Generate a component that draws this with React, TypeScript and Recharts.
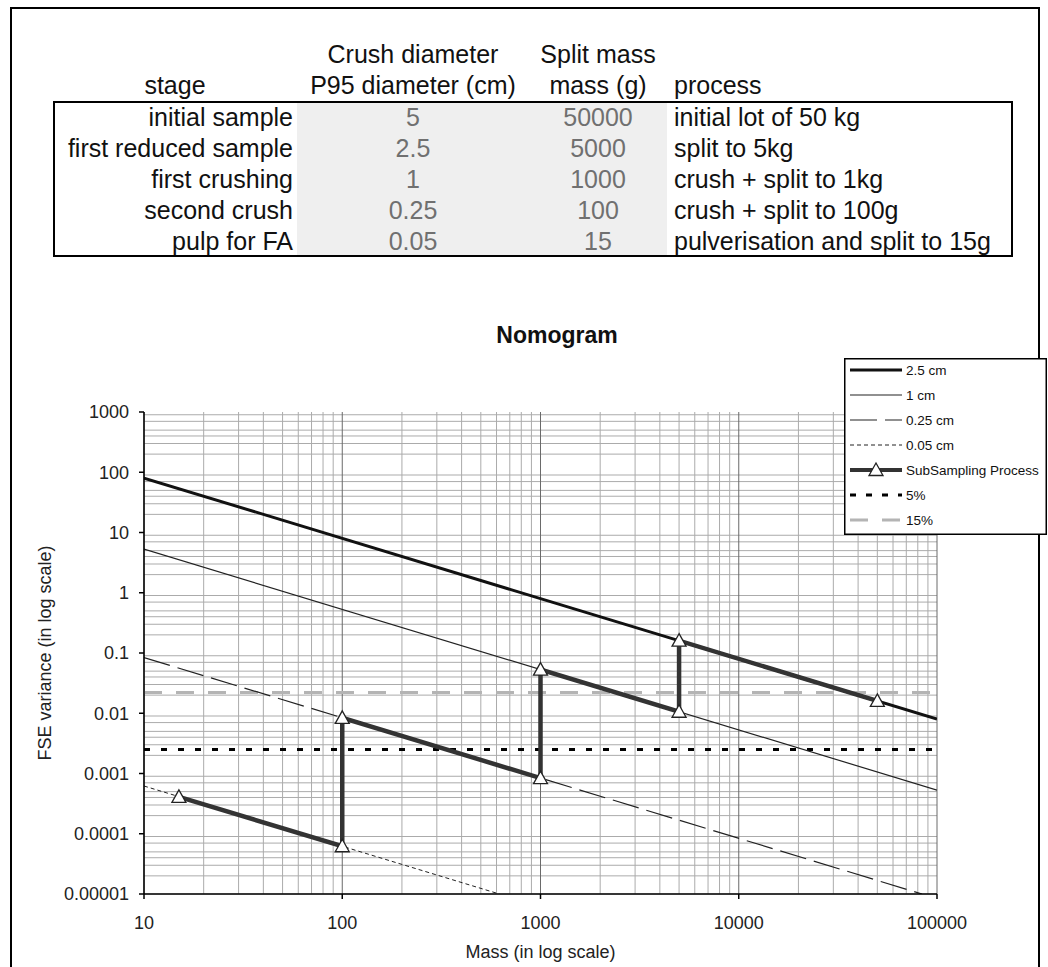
import React from "react";
import {
  ComposedChart,
  Line,
  XAxis,
  YAxis,
  CartesianGrid,
} from "recharts";

// table
const stages = ["initial sample", "first reduced sample", "first crushing", "second crush", "pulp for FA"];
const crushDiameters = ["5", "2.5", "1", "0.25", "0.05"];
const splitMasses = ["50000", "5000", "1000", "100", "15"];
const processes = [
  "initial lot of 50 kg",
  "split to 5kg",
  "crush + split to 1kg",
  "crush + split to 100g",
  "pulverisation and split to 15g",
];

// nomogram
const massTicks = [10, 100, 1000, 10000, 100000];
const massTickLabels = ["10", "100", "1000", "10000", "100000"];
const varianceTicks = [0.00001, 0.0001, 0.001, 0.01, 0.1, 1, 10, 100, 1000];
const varianceTickLabels = ["0.00001", "0.0001", "0.001", "0.01", "0.1", "1", "10", "100", "1000"];

const line25cm = [{ m: 10, v: 80 }, { m: 100000, v: 0.008 }];
const line1cm = [{ m: 10, v: 5.3 }, { m: 100000, v: 0.00053 }];
const line025cm = [{ m: 10, v: 0.084 }, { m: 84000, v: 0.00001 }];
const line005cm = [{ m: 10, v: 0.00062 }, { m: 620, v: 0.00001 }];
const subSampling = [
  { m: 50000, v: 0.016 },
  { m: 5000, v: 0.16 },
  { m: 5000, v: 0.0106 },
  { m: 1000, v: 0.053 },
  { m: 1000, v: 0.00084 },
  { m: 100, v: 0.0084 },
  { m: 100, v: 0.000062 },
  { m: 15, v: 0.00041 },
];
const limit5 = [{ m: 10, v: 0.0025 }, { m: 100000, v: 0.0025 }];
const limit15 = [{ m: 10, v: 0.022 }, { m: 100000, v: 0.022 }];

// log grid lines
const mult = [2, 3, 4, 5, 6, 7, 8, 9];
const xMinor = massTicks.slice(0, -1).flatMap((d) => mult.map((k) => k * d));
const yGrid = [
  ...varianceTicks,
  ...varianceTicks.slice(0, -1).flatMap((d) => mult.map((k) => k * d)),
];

const FONT = "'Liberation Sans', Arial, sans-serif";

const Triangle = (props: any) => {
  const { cx, cy, index } = props;
  if (cx == null || cy == null) return <g key={index} />;
  return (
    <polygon
      key={index}
      points={`${cx},${cy - 7} ${cx - 7},${cy + 5.5} ${cx + 7},${cy + 5.5}`}
      fill="#fff"
      stroke="#222"
      strokeWidth={1.3}
    />
  );
};

const legendItems = [
  { label: "2.5 cm", stroke: "#111", width: 3, dash: undefined as string | undefined, marker: false },
  { label: "1 cm", stroke: "#222", width: 1.2, dash: undefined, marker: false },
  { label: "0.25 cm", stroke: "#222", width: 1.2, dash: "27 8", marker: false },
  { label: "0.05 cm", stroke: "#222", width: 1, dash: "4 3", marker: false },
  { label: "SubSampling Process", stroke: "#333", width: 4, dash: undefined, marker: true },
  { label: "5%", stroke: "#000", width: 3, dash: "6 10", marker: false },
  { label: "15%", stroke: "#b4b4b4", width: 3, dash: "18 14", marker: false },
];

function Cell({ left, top, width, text, align, color }: any) {
  return (
    <div
      style={{
        position: "absolute",
        left,
        top,
        width,
        height: 31,
        lineHeight: "31px",
        textAlign: align,
        color,
        whiteSpace: "nowrap",
      }}
    >
      {text}
    </div>
  );
}

export default function App() {
  return (
    <div
      style={{
        position: "absolute",
        left: 0,
        top: 0,
        width: 1048,
        height: 967,
        overflow: "hidden",
        background: "#fff",
        fontFamily: FONT,
      }}
    >
      <ComposedChart
        width={1048}
        height={967}
        margin={{ top: 412, right: 111, bottom: 0, left: 24 }}
        style={{ position: "absolute", left: 0, top: 0 }}
      >
        <CartesianGrid
          horizontal
          vertical
          horizontalValues={yGrid}
          verticalValues={xMinor}
          stroke="#ababab"
          strokeWidth={1}
        />
        <CartesianGrid
          horizontal={false}
          vertical
          verticalValues={massTicks}
          stroke="#6a6a6a"
          strokeWidth={1}
        />
        <XAxis
          type="number"
          dataKey="m"
          scale="log"
          domain={[10, 100000]}
          ticks={massTicks}
          tickFormatter={(v: number) => massTickLabels[massTicks.indexOf(v)]}
          allowDataOverflow
          height={73}
          tickSize={5}
          tickMargin={17}
          stroke="#000"
          strokeWidth={1.5}
          tick={{ fontSize: 18, fill: "#222" }}
          label={{ value: "Mass (in log scale)", position: "insideBottom", offset: 9, fontSize: 18, fill: "#222" }}
        />
        <YAxis
          type="number"
          dataKey="v"
          scale="log"
          domain={[0.00001, 1000]}
          ticks={varianceTicks}
          tickFormatter={(v: number) => varianceTickLabels[varianceTicks.indexOf(v)]}
          allowDataOverflow
          width={120}
          tickSize={5}
          tickMargin={10}
          stroke="#000"
          strokeWidth={1.5}
          tick={{ fontSize: 18, fill: "#222" }}
          label={{
            value: "FSE variance (in log scale)",
            angle: -90,
            position: "insideLeft",
            offset: 21,
            fontSize: 18,
            fill: "#222",
            style: { textAnchor: "middle" },
          }}
        />
        <Line data={limit15} dataKey="v" type="linear" stroke="#b4b4b4" strokeWidth={3} strokeDasharray="18 14" dot={false} isAnimationActive={false} />
        <Line data={limit5} dataKey="v" type="linear" stroke="#000" strokeWidth={3} strokeDasharray="6 11" dot={false} isAnimationActive={false} />
        <Line data={line25cm} dataKey="v" type="linear" stroke="#111" strokeWidth={3} dot={false} isAnimationActive={false} />
        <Line data={line1cm} dataKey="v" type="linear" stroke="#222" strokeWidth={1.2} dot={false} isAnimationActive={false} />
        <Line data={line025cm} dataKey="v" type="linear" stroke="#222" strokeWidth={1.2} strokeDasharray="27 8" dot={false} isAnimationActive={false} />
        <Line data={line005cm} dataKey="v" type="linear" stroke="#222" strokeWidth={1} strokeDasharray="4 3" dot={false} isAnimationActive={false} />
        <Line data={subSampling} dataKey="v" type="linear" stroke="#333" strokeWidth={4.5} dot={Triangle} isAnimationActive={false} />
      </ComposedChart>

      {/* outer frame */}
      <div style={{ position: "absolute", left: 10, top: 7, width: 1030, height: 980, border: "2px solid #000", boxSizing: "border-box" }} />

      {/* table */}
      <div style={{ position: "absolute", left: 0, top: 0, fontSize: 25, color: "#111" }}>
        <div style={{ position: "absolute", left: 297, top: 102, width: 370, height: 154, background: "#efefef" }} />
        <div style={{ position: "absolute", left: 53, top: 101, width: 960, height: 156, border: "2px solid #000", boxSizing: "border-box" }} />
        <Cell left={297} top={39} width={232} text="Crush diameter" align="center" color="#111" />
        <Cell left={529} top={39} width={138} text="Split mass" align="center" color="#111" />
        <Cell left={53} top={70} width={244} text="stage" align="center" color="#111" />
        <Cell left={297} top={70} width={232} text="P95 diameter (cm)" align="center" color="#111" />
        <Cell left={529} top={70} width={138} text="mass (g)" align="center" color="#111" />
        <Cell left={674} top={70} width={300} text="process" align="left" color="#111" />
        {stages.map((s, i) => (
          <React.Fragment key={s}>
            <Cell left={53} top={102 + i * 31} width={240} text={s} align="right" color="#111" />
            <Cell left={297} top={102 + i * 31} width={232} text={crushDiameters[i]} align="center" color="#707070" />
            <Cell left={529} top={102 + i * 31} width={138} text={splitMasses[i]} align="center" color="#707070" />
            <Cell left={674} top={102 + i * 31} width={336} text={processes[i]} align="left" color="#111" />
          </React.Fragment>
        ))}
      </div>

      {/* title */}
      <div style={{ position: "absolute", left: 457, top: 321, width: 200, textAlign: "center", fontSize: 23, fontWeight: "bold", lineHeight: "28px", color: "#111" }}>
        Nomogram
      </div>

      {/* legend */}
      <svg width={203} height={177} style={{ position: "absolute", left: 844, top: 358 }}>
        <rect x={0.75} y={0.75} width={201.5} height={175.5} fill="#fff" stroke="#000" strokeWidth={1.5} />
        {legendItems.map((it, i) => {
          const y = 12 + i * 25;
          return (
            <g key={it.label}>
              <line x1={6} x2={58} y1={y} y2={y} stroke={it.stroke} strokeWidth={it.width} strokeDasharray={it.dash} />
              {it.marker && <Triangle cx={32} cy={y} index={0} />}
              <text x={62} y={y} dominantBaseline="central" fontSize={13.5} fill="#111">
                {it.label}
              </text>
            </g>
          );
        })}
      </svg>
    </div>
  );
}
